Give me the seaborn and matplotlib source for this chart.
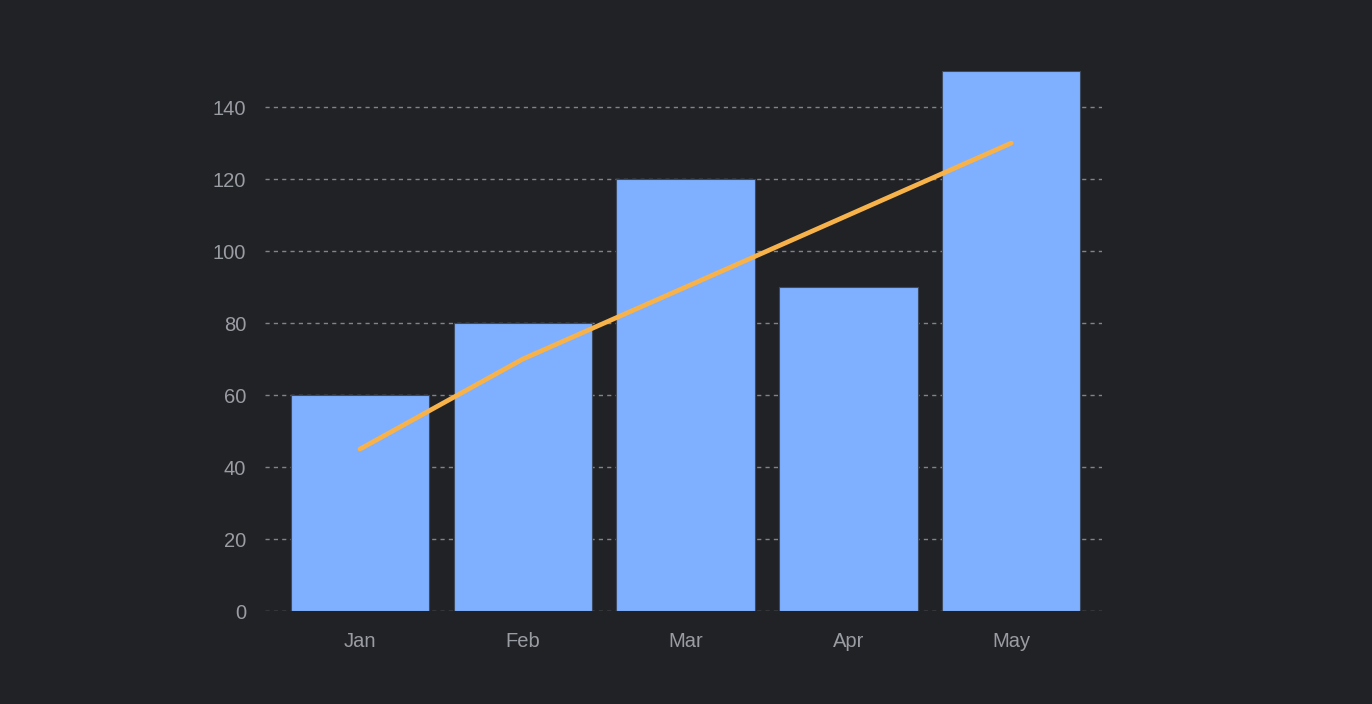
import matplotlib

matplotlib.use("Agg")
import matplotlib.pyplot as plt  # noqa: E402
import pandas as pd  # noqa: E402
import seaborn as sns  # noqa: E402

months = ["Jan", "Feb", "Mar", "Apr", "May"]
sales = [60, 80, 120, 90, 150]
trend = [45, 70, 90, 110, 130]
y_ticks = [0, 20, 40, 60, 80, 100, 120, 140]

BG = "#212226"
BAR = "#7fb0ff"
LINE = "#f8b24a"
TEXT = "#9a9ca3"
GRID = "#80838a"

sns.set_theme(style="dark")
plt.rcParams["font.family"] = ["Liberation Sans", "DejaVu Sans"]

df = pd.DataFrame({"month": months, "sales": sales, "trend": trend})

fig = plt.figure(figsize=(13.72, 7.04), dpi=100, facecolor=BG)
ax = fig.add_axes([0.1935, 0.132, 0.610, 0.767])
ax.set_facecolor(BG)

sns.barplot(data=df, x="month", y="sales", color=BAR, width=0.85,
            edgecolor="#3d4a5e", linewidth=0.8, saturation=1, ax=ax, zorder=2)
sns.lineplot(data=df, x="month", y="trend", color=LINE, linewidth=3.4,
             ax=ax, zorder=3)

ax.set_xlim(-0.58, 4.56)
ax.set_ylim(0, 150)
ax.set_yticks(y_ticks)
ax.yaxis.grid(True, color=GRID, linestyle=(0, (3, 3)), linewidth=1, zorder=1)
ax.xaxis.grid(False)
ax.set_axisbelow(True)
for s in ax.spines.values():
    s.set_visible(False)
ax.tick_params(axis="both", length=0, colors=TEXT, labelsize=14.5)
ax.tick_params(axis="y", pad=14)
ax.tick_params(axis="x", pad=15)
ax.set_xlabel("")
ax.set_ylabel("")

fig.savefig("out.png", dpi=100, facecolor=BG)
plt.close(fig)
